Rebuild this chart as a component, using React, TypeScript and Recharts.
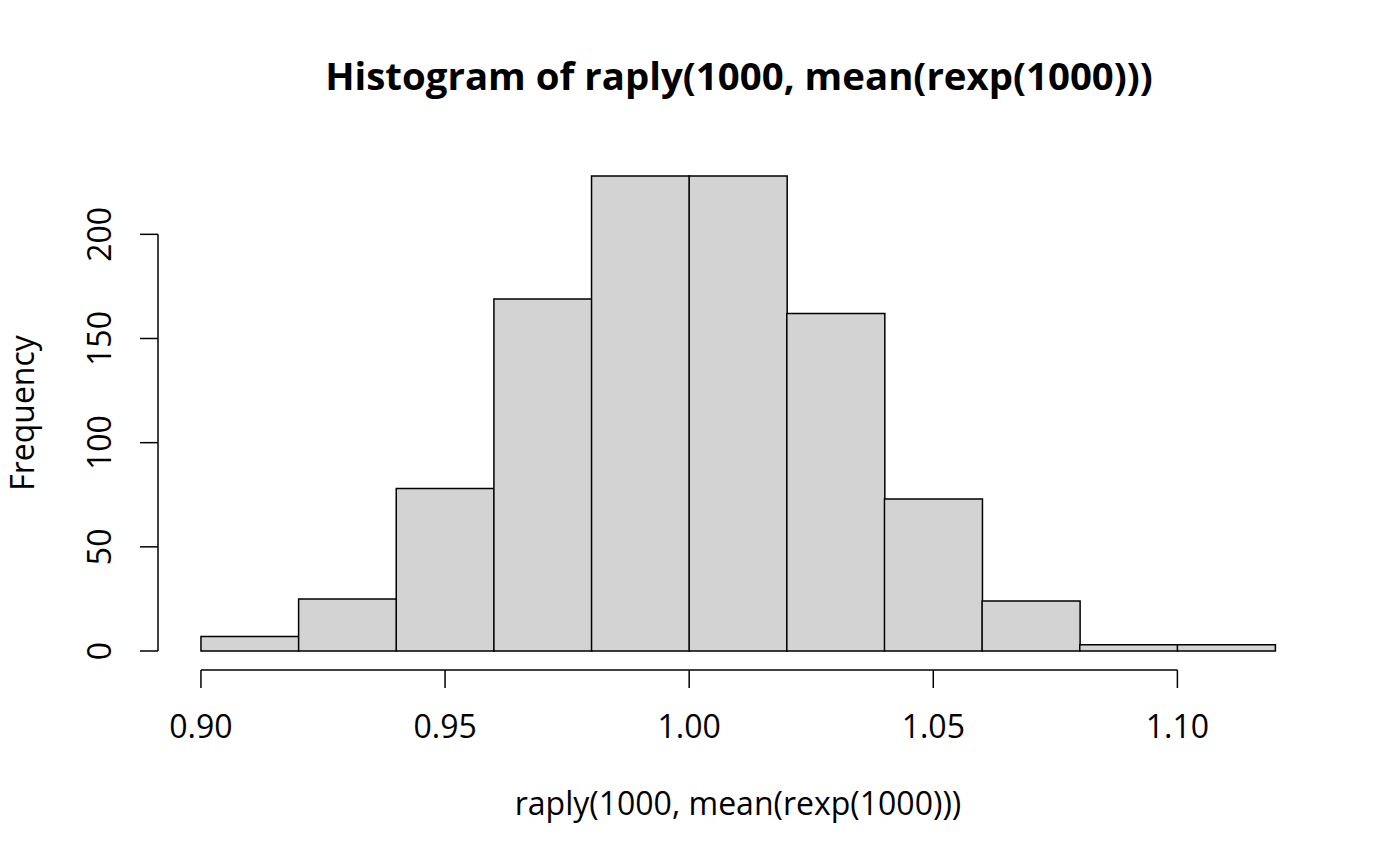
import { BarChart, Bar, XAxis, YAxis, ReferenceLine } from "recharts";

// histogram of 1000 bootstrap means, bins of width 0.02
const breaks = [0.9, 0.92, 0.94, 0.96, 0.98, 1.0, 1.02, 1.04, 1.06, 1.08, 1.1, 1.12];
const counts = [7, 25, 78, 169, 228, 228, 162, 73, 24, 3, 3];
const xTicks = [0.9, 0.95, 1.0, 1.05, 1.1];
const yTicks = [0, 50, 100, 150, 200];

const title = "Histogram of raply(1000, mean(rexp(1000)))";
const xLabel = "raply(1000, mean(rexp(1000)))";
const yLabel = "Frequency";

const data = counts.map((count, i) => ({
  bin: `${breaks[i].toFixed(2)}-${breaks[i + 1].toFixed(2)}`,
  lo: breaks[i],
  count,
}));

// R pads each axis range by 4%
const xLo = breaks[0];
const xHi = breaks[breaks.length - 1];
const xPad = (xHi - xLo) * 0.04;
const xDomain = [xLo - xPad, xHi + xPad];
const yMax = Math.max(...counts);
const yDomain = [-yMax * 0.04, yMax * 1.04];

const W = 1400;
const H = 866;
const margin = { top: 157, right: 82, bottom: 0, left: 0 };
const plotW = W - 158 - margin.right;
const FONT = "'Open Sans', 'Noto Sans', sans-serif";
const FS = 32;

function XTick(props: any) {
  const { x, y, payload } = props;
  return (
    <text x={x} y={y + 50} textAnchor="middle" fontSize={FS} fontFamily={FONT} fill="#000">
      {Number(payload.value).toFixed(2)}
    </text>
  );
}

function YTick(props: any) {
  const { x, y, payload } = props;
  const bx = x - 29;
  return (
    <text
      x={bx}
      y={y}
      textAnchor="middle"
      fontSize={FS}
      fontFamily={FONT}
      fill="#000"
      transform={`rotate(-90 ${bx} ${y})`}
    >
      {payload.value}
    </text>
  );
}

export default function App() {
  return (
    <div style={{ position: "absolute", left: 0, top: 0, width: W, height: H, background: "#fff", fontFamily: FONT }}>
      <BarChart width={W} height={H} data={data} margin={margin} barCategoryGap={0} barGap={0}>
        <XAxis
          xAxisId="bin"
          dataKey="bin"
          type="category"
          orientation="top"
          hide
          padding={{ left: (plotW * 0.04) / 1.08, right: (plotW * 0.04) / 1.08 }}
        />
        <XAxis
          xAxisId="num"
          dataKey="lo"
          type="number"
          domain={xDomain}
          allowDataOverflow
          ticks={xTicks}
          height={196}
          axisLine={false}
          tickSize={18}
          tickMargin={0}
          tickLine={{ stroke: "#000", strokeWidth: 1.5 }}
          tick={<XTick />}
          interval={0}
        />
        <YAxis
          type="number"
          domain={yDomain}
          allowDataOverflow
          ticks={yTicks}
          width={158}
          axisLine={false}
          tickSize={18}
          tickMargin={0}
          tickLine={{ stroke: "#000", strokeWidth: 1.5 }}
          tick={<YTick />}
          interval={0}
        />
        <Bar
          xAxisId="bin"
          dataKey="count"
          fill="#d3d3d3"
          stroke="#000"
          strokeWidth={1.5}
          isAnimationActive={false}
        />
        {/* axis lines only span the tick range, as in base R */}
        <ReferenceLine
          xAxisId="num"
          segment={[{ x: xDomain[0], y: yTicks[0] }, { x: xDomain[0], y: yTicks[yTicks.length - 1] }]}
          stroke="#000"
          strokeWidth={1.5}
          ifOverflow="visible"
        />
        <ReferenceLine
          xAxisId="num"
          segment={[{ x: xTicks[0], y: yDomain[0] }, { x: xTicks[xTicks.length - 1], y: yDomain[0] }]}
          stroke="#000"
          strokeWidth={1.5}
          ifOverflow="visible"
        />
      </BarChart>
      <svg
        width={W}
        height={H}
        style={{ position: "absolute", left: 0, top: 0, pointerEvents: "none" }}
      >
        <text x={739} y={90} textAnchor="middle" fontSize={38.4} fontWeight="bold" fontFamily={FONT}>
          {title}
        </text>
        <text x={738} y={815} textAnchor="middle" fontSize={FS} fontFamily={FONT}>
          {xLabel}
        </text>
        <text x={34} y={413} textAnchor="middle" fontSize={FS} fontFamily={FONT} transform="rotate(-90 34 413)">
          {yLabel}
        </text>
      </svg>
    </div>
  );
}
